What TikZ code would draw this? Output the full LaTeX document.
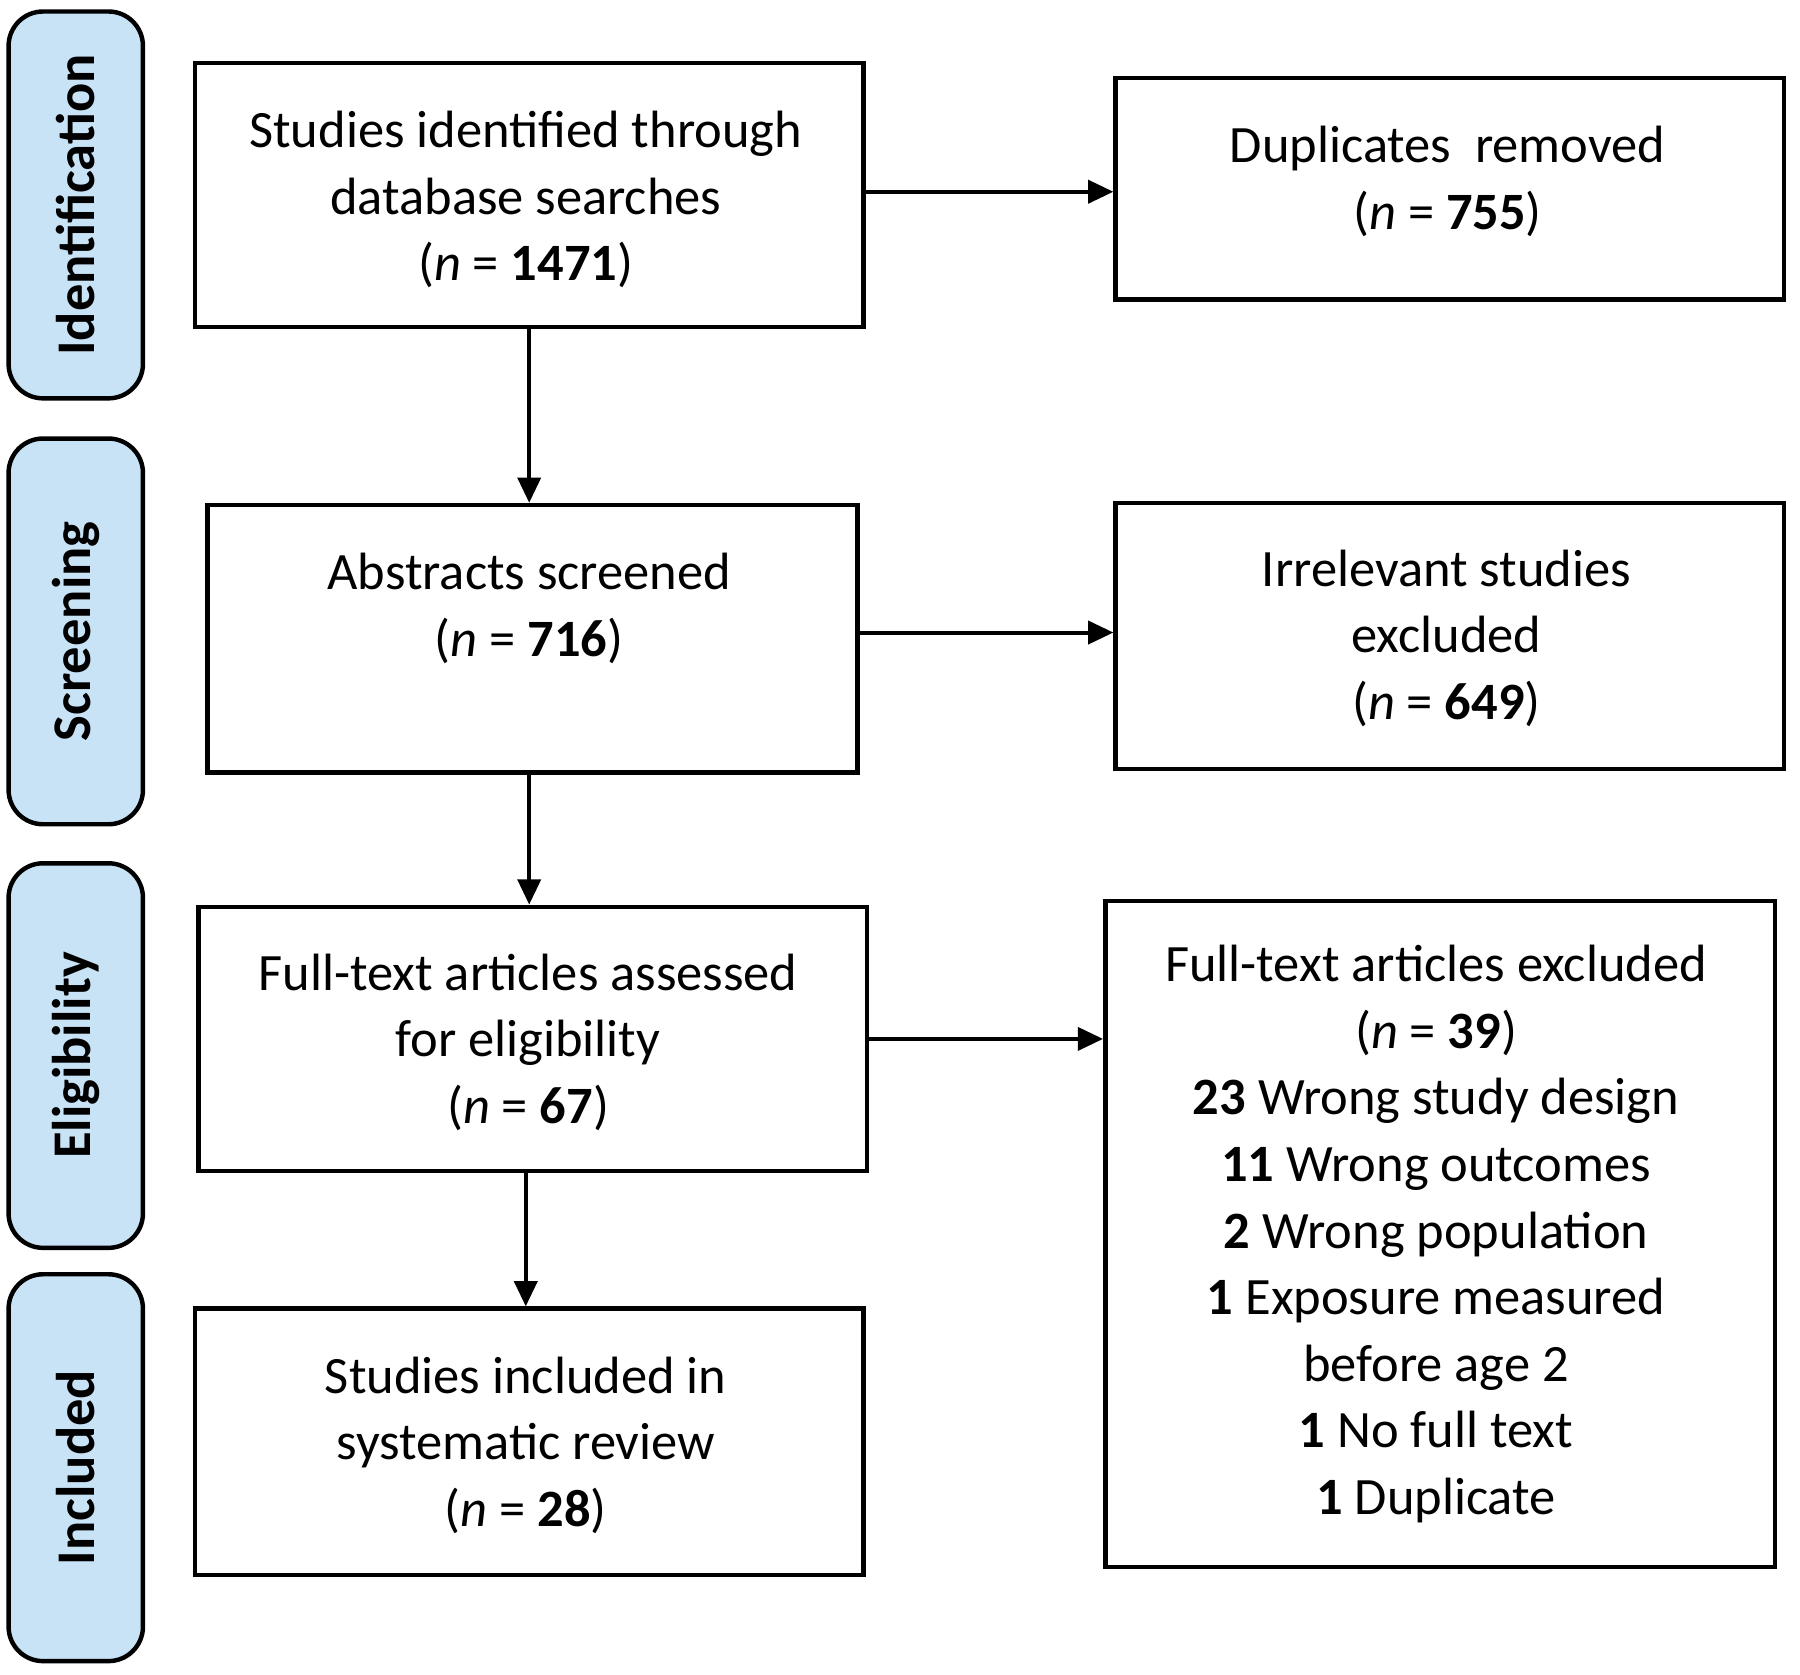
\documentclass[tikz,border=0pt]{standalone}
\usepackage{fontspec}
\setmainfont{Carlito}
\usetikzlibrary{arrows.meta}
\definecolor{sidefill}{RGB}{200,226,246}
\begin{document}
\begin{tikzpicture}[x=0.01cm,y=-0.01cm,
 box/.style={draw,line width=1.1pt,inner sep=0pt},
 txt/.style={align=center,font=\fontsize{13pt}{16.5pt}\selectfont,inner sep=0pt},
 side/.style={draw,line width=1.1pt,rounded corners=0.3cm,fill=sidefill,inner sep=0pt},
 stxt/.style={rotate=90,font=\fontsize{13.5pt}{15pt}\selectfont\bfseries,inner sep=0pt},
 arr/.style={line width=1pt,-{Triangle[length=0.22cm,width=0.2cm]}}]
\useasboundingbox (0,0) rectangle (1568,1459);
\newcommand\nn[1]{(\textit{n} = \textbf{#1})}
% side bars
\foreach \a/\b/\t/\k in {10/347/Identification/s1,382/718/Screening/s2,752/1087/Eligibility/s3,1110/1447/Included/s4}{
 \node[side,minimum width=1.17cm,minimum height={(\b-\a)*0.01cm}] (\k) at (66,{(\a+\b)/2}) {};
 \node[stxt] at (\k) {\t};
}
% boxes
\node[box,minimum width=5.82cm,minimum height=2.30cm] (b1) at (461,170) {};
\node[txt] at (458,174) {Studies identified through\\database searches\\\nn{1471}};
\node[box,minimum width=5.82cm,minimum height=1.93cm] (d1) at (1263,164.5) {};
\node[txt] at (1261,158) {Duplicates\ \ removed\\\nn{755}};
\node[box,minimum width=5.66cm,minimum height=2.33cm] (b2) at (464,556.5) {};
\node[txt] at (461,530) {Abstracts screened\\\nn{716}};
\node[box,minimum width=5.82cm,minimum height=2.32cm] (d2) at (1263,554) {};
\node[txt] at (1260,556) {Irrelevant studies\\excluded\\\nn{649}};
\node[box,minimum width=5.82cm,minimum height=2.30cm] (b3) at (464,905) {};
\node[txt] at (460,908) {Full-text articles assessed\\for eligibility\\\nn{67}};
\node[box,minimum width=5.83cm,minimum height=5.80cm] (d3) at (1254.5,1075) {};
\node[txt] at (1251,1075) {Full-text articles excluded\\\nn{39}\\\textbf{23} Wrong study design\\\textbf{11} Wrong outcomes\\\textbf{2} Wrong population\\\textbf{1} Exposure measured\\before age 2\\\textbf{1} No full text\\\textbf{1} Duplicate};
\node[box,minimum width=5.82cm,minimum height=2.32cm] (b4) at (461,1256) {};
\node[txt] at (458,1259) {Studies included in\\systematic review\\\nn{28}};
% arrows
\draw[arr] (b1.south -| 461,0) -- (b2.north -| 461,0);
\draw[arr] (b2.south -| 461,0) -- (b3.north -| 461,0);
\draw[arr] (b3.south -| 458,0) -- (b4.north -| 458,0);
\draw[arr] (b1.east |- 0,167) -- (d1.west |- 0,167);
\draw[arr] (b2.east |- 0,551) -- (d2.west |- 0,551);
\draw[arr] (b3.east |- 0,905) -- (d3.west |- 0,905);
\end{tikzpicture}
\end{document}
